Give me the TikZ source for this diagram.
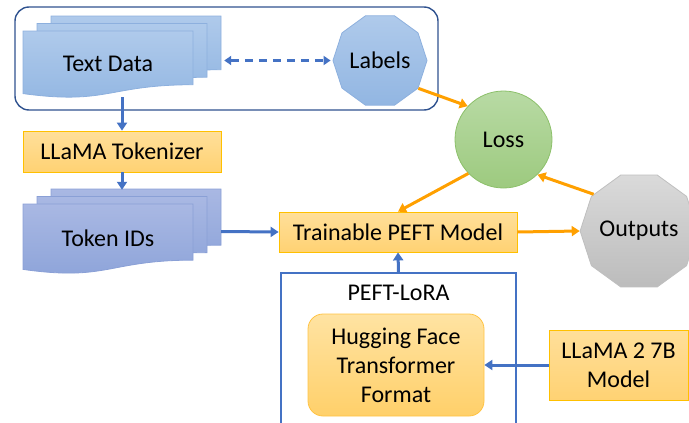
\documentclass[tikz,border=0pt]{standalone}
\usepackage{fontspec}
\setmainfont{Carlito}
\usetikzlibrary{arrows.meta,shapes.geometric}
\definecolor{flowblue}{HTML}{4472C4}
\definecolor{groupblue}{HTML}{2F528F}
\definecolor{feedorange}{HTML}{FFA000}
\definecolor{orangetop}{HTML}{FFDF9A}
\definecolor{orangebot}{HTML}{FFD273}
\definecolor{orangeedge}{HTML}{FFC000}
\definecolor{hftop}{HTML}{FFE3A2}
\definecolor{hfbot}{HTML}{FFD06A}
\definecolor{hfedge}{HTML}{FFC343}
\definecolor{datatop}{HTML}{AFCAEB}
\definecolor{databot}{HTML}{92B6E2}
\definecolor{dataedge}{HTML}{8DB0DE}
\definecolor{tokentop}{HTML}{A9B8E3}
\definecolor{tokenbot}{HTML}{8CA3D9}
\definecolor{tokenedge}{HTML}{8AA0D6}
\definecolor{losstop}{HTML}{B8DAA4}
\definecolor{lossbot}{HTML}{9DCA7F}
\definecolor{lossedge}{HTML}{8CC06A}
\definecolor{outtop}{HTML}{DADADA}
\definecolor{outbot}{HTML}{BCBCBC}
\definecolor{outedge}{HTML}{BFBFBF}
\tikzset{
  >={Triangle[length=8pt,width=10pt]}
}
% one page with a wavy lower edge: x, y, width, height, style
\newcommand{\docpage}[5]{%
  \path[#5] (#1,#2) -- (#1+#3,#2) -- (#1+#3,#2+0.802*#4)
    .. controls (#1+0.5*#3,#2+0.802*#4) and (#1+0.5*#3,#2+1.107*#4) .. (#1,#2+0.934*#4) -- cycle;}
% three pages, the front one last
\newcommand{\docstack}[5]{%
  \docpage{#1+28}{#2-15}{#3}{#4}{#5}
  \docpage{#1+14}{#2-7.5}{#3}{#4}{#5}
  \docpage{#1}{#2}{#3}{#4}{#5}}

\begin{document}
\begin{tikzpicture}[x=1pt,y=-1pt,font=\fontsize{24}{29}\selectfont,
    orangebox/.style={draw=orangeedge,line width=0.8pt,top color=orangetop,bottom color=orangebot,inner sep=0pt},
    datapage/.style={draw=dataedge,line width=0.8pt,top color=datatop,bottom color=databot},
    tokenpage/.style={draw=tokenedge,line width=0.8pt,top color=tokentop,bottom color=tokenbot},
    decagon/.style={regular polygon,regular polygon sides=10,inner sep=0pt,line width=0.8pt},
    flow/.style={->,draw=flowblue,line width=3pt},
    feedback/.style={->,draw=feedorange,line width=3pt},
    ghost/.style={inner sep=0pt}]
        \path[use as bounding box] (0,0) rectangle (689,423);
        \clip (0,0) rectangle (689,423);

        \node (datagroup) at (226.5,58.5) [draw=groupblue,line width=1.4pt,rounded corners=14pt,minimum width=423pt,minimum height=103pt] {};
        \docstack{23}{31}{170}{67}{datapage}
        \node (textdata) at (122,56.5) [ghost,minimum width=198pt,minimum height=81pt] {};
        \node (textdatalbl) at (108,64) {Text Data};
        \node (labels) at (380,60.5) [decagon,draw=dataedge,top color=datatop,bottom color=databot,minimum size=94pt] {Labels};

        \node (tokenizer) at (122,151.5) [orangebox,minimum width=198pt,minimum height=41pt] {LLaMA Tokenizer};

        \docstack{23}{204}{170}{70}{tokenpage}
        \node (tokenids) at (122,231.5) [ghost,minimum width=198pt,minimum height=83pt] {};
        \node (tokenidslbl) at (108,238) {Token IDs};

        \node (peft) at (398,232) [orangebox,minimum width=238pt,minimum height=40pt] {Trainable PEFT Model};
        \node (loss) at (503.5,139.5) [circle,draw=lossedge,line width=0.8pt,top color=losstop,bottom color=lossbot,minimum size=97pt] {Loss};
        \node (outputs) at (639,231) [decagon,draw=outedge,top color=outtop,bottom color=outbot,minimum size=100pt] {Outputs};

        \node (lora) at (398.5,358) [draw=flowblue,line width=1.4pt,minimum width=235pt,minimum height=170pt] {};
        \node (loralbl) at (398.5,293) {PEFT-LoRA};
        \node (hf) at (396,365) [draw=hfedge,line width=0.8pt,top color=hftop,bottom color=hfbot,rounded corners=15pt,minimum width=176pt,minimum height=102pt,align=center] {Hugging Face\\Transformer\\Format};
        \node (llama) at (618.5,365) [orangebox,minimum width=139pt,minimum height=70pt,align=center] {LLaMA 2 7B\\Model};

        \draw[{Triangle[length=7pt,width=9pt]}-{Triangle[length=7pt,width=9pt]},draw=flowblue,line width=2.4pt,dash pattern=on 8pt off 6pt,shorten <=3pt,shorten >=2pt] (textdata.east |- labels.west) -- (labels.west);
        \draw[flow] (textdata.south) -- (tokenizer.north);
        \draw[flow] (tokenizer.south) -- (tokenids.north);
        \draw[flow] (tokenids.east) -- (peft.west);
        \draw[flow] (lora.north) -- (peft.south);
        \draw[flow] (llama.west) -- (hf.east);

        \draw[feedback] (labels.-36) -- (loss.137);
        \draw[feedback] (loss.224) -- (peft.north);
        \draw[feedback] (peft.east) -- (outputs.west);
        \draw[feedback] (outputs.141) -- (loss.-46);
    \end{tikzpicture}
\end{document}
